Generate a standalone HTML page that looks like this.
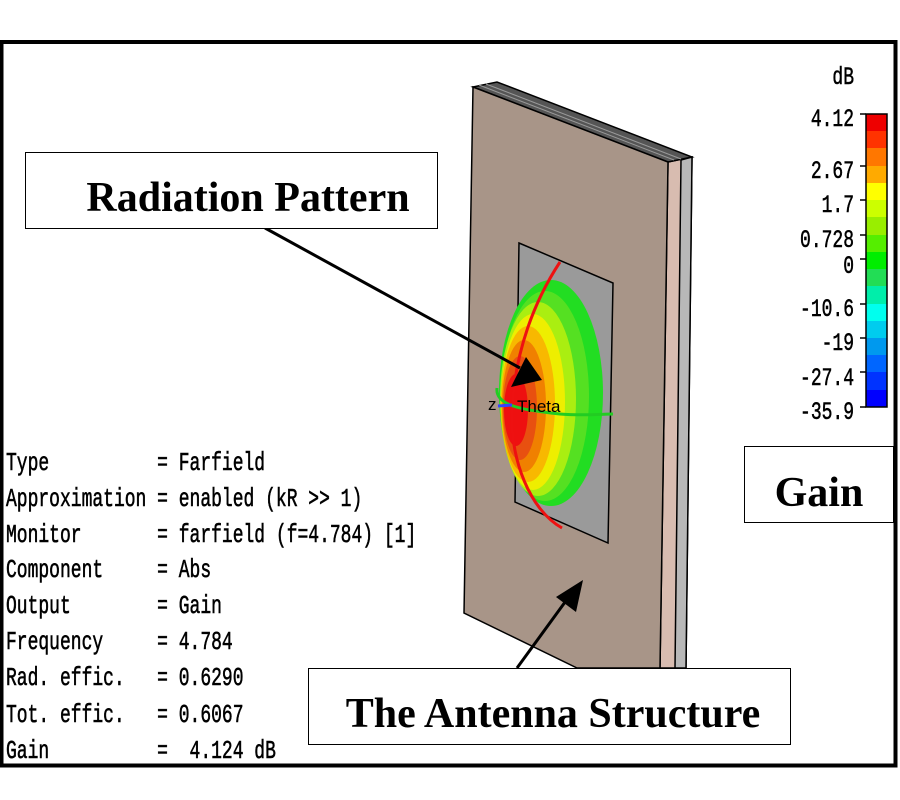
<!DOCTYPE html>
<html><head><meta charset="utf-8"><style>
html,body{margin:0;padding:0;background:#fff}
svg{display:block}
.m{font-family:"Liberation Mono","DejaVu Sans Mono",monospace;font-size:18px;fill:#000;stroke:#000;stroke-width:0.4}
.b{font-family:"Liberation Serif",serif;font-weight:bold;fill:#000}
</style></head><body>
<svg width="900" height="800" viewBox="0 0 900 800" xmlns="http://www.w3.org/2000/svg">
<rect x="0" y="0" width="900" height="800" fill="#fff"/>
<rect x="1.5" y="42" width="894" height="723.5" fill="#fff" stroke="#000" stroke-width="4"/>
<!-- board -->
<polygon points="668,162 692,157 686,668 660,668" fill="#d8bcb0" stroke="#000" stroke-width="1.5"/>
<polygon points="681,160 692,157 686,668 675,668" fill="#b8b8b8" stroke="#000" stroke-width="1.5"/>
<polygon points="473,87 497,82 692,157 668,162" fill="#555" stroke="#000" stroke-width="1.5"/>
<line x1="479" y1="85" x2="674" y2="160" stroke="#999" stroke-width="1"/>
<line x1="486" y1="84" x2="681" y2="159" stroke="#999" stroke-width="1"/>
<polygon points="473,87 668,162 660,668 577,668 464,613" fill="#a89588" stroke="#000" stroke-width="1.5"/>
<polygon points="519,243 613,283 608,543 515,502" fill="#9a9a9a" stroke="#000" stroke-width="1.5"/>
<!-- pattern -->
<ellipse cx="551" cy="393" rx="52" ry="113" fill="#22dd22"/>
<ellipse cx="545" cy="396" rx="44" ry="105" fill="#55e022"/>
<ellipse cx="538" cy="399" rx="38" ry="97" fill="#aaee11"/>
<ellipse cx="533" cy="402" rx="32" ry="88" fill="#eeee00"/>
<ellipse cx="528" cy="404" rx="27" ry="78" fill="#f8b800"/>
<ellipse cx="524" cy="406" rx="22" ry="66" fill="#f08000"/>
<ellipse cx="520" cy="408" rx="17" ry="52" fill="#e85010"/>
<ellipse cx="516" cy="410" rx="12" ry="36" fill="#ee1010"/>
<path d="M560,262 C535,300 515,350 512,410 C510,460 530,510 562,528" fill="none" stroke="#ee1111" stroke-width="3"/>
<path d="M497,388 C495,405 520,410 560,414 C585,416 600,414 613,414" fill="none" stroke="#22cc22" stroke-width="3"/>
<line x1="498" y1="406" x2="512" y2="405" stroke="#3344ff" stroke-width="3"/>
<text x="488" y="410" font-family="Liberation Sans,sans-serif" font-size="17" fill="#000">z</text>
<text x="517" y="412" font-family="Liberation Sans,sans-serif" font-size="17" fill="#000">Theta</text>
<!-- arrows -->
<line x1="265" y1="228" x2="520" y2="368" stroke="#000" stroke-width="3"/>
<polygon points="542,380 511,387 526,357" fill="#000"/>
<line x1="517" y1="668" x2="568" y2="598" stroke="#000" stroke-width="3"/>
<polygon points="583,580 576,612 556,597" fill="#000"/>
<!-- color bar -->
<g stroke="none">
<rect x="866" y="114" width="21" height="17" fill="#ee0000"/>
<rect x="866" y="131" width="21" height="17" fill="#ff3300"/>
<rect x="866" y="148" width="21" height="18" fill="#ff7700"/>
<rect x="866" y="166" width="21" height="17" fill="#ffaa00"/>
<rect x="866" y="183" width="21" height="17" fill="#ffff00"/>
<rect x="866" y="200" width="21" height="17" fill="#ccff00"/>
<rect x="866" y="217" width="21" height="18" fill="#99ee00"/>
<rect x="866" y="235" width="21" height="17" fill="#55ee00"/>
<rect x="866" y="252" width="21" height="17" fill="#00ee00"/>
<rect x="866" y="269" width="21" height="17" fill="#22dd55"/>
<rect x="866" y="286" width="21" height="18" fill="#00eeaa"/>
<rect x="866" y="304" width="21" height="17" fill="#00ffee"/>
<rect x="866" y="321" width="21" height="17" fill="#00ccee"/>
<rect x="866" y="338" width="21" height="17" fill="#0099ee"/>
<rect x="866" y="355" width="21" height="17" fill="#0066ff"/>
<rect x="866" y="372" width="21" height="18" fill="#0033ff"/>
<rect x="866" y="390" width="21" height="17" fill="#0000ff"/>
</g>
<rect x="866" y="114" width="21" height="293" fill="none" stroke="#000" stroke-width="1.5"/>
<g stroke="#000" stroke-width="1.5">
<line x1="860" y1="114" x2="866" y2="114"/><line x1="860" y1="166" x2="866" y2="166"/>
<line x1="860" y1="200" x2="866" y2="200"/><line x1="860" y1="235" x2="866" y2="235"/>
<line x1="860" y1="259" x2="866" y2="259"/><line x1="860" y1="304" x2="866" y2="304"/>
<line x1="860" y1="338" x2="866" y2="338"/><line x1="860" y1="372" x2="866" y2="372"/>
<line x1="860" y1="407" x2="866" y2="407"/>
</g>
<g class="m" text-anchor="end" font-size="19">
<text transform="translate(854,84) scale(1,1.4)">dB</text>
<text transform="translate(854,126) scale(1,1.4)">4.12</text>
<text transform="translate(854,178) scale(1,1.4)">2.67</text>
<text transform="translate(854,212) scale(1,1.4)">1.7</text>
<text transform="translate(854,247) scale(1,1.4)">0.728</text>
<text transform="translate(854,273) scale(1,1.4)">0</text>
<text transform="translate(854,316) scale(1,1.4)">-10.6</text>
<text transform="translate(854,350) scale(1,1.4)">-19</text>
<text transform="translate(854,385) scale(1,1.4)">-27.4</text>
<text transform="translate(854,419) scale(1,1.4)">-35.9</text>
</g>
<!-- parameters -->
<g class="m" font-size="18">
<text transform="translate(6,470) scale(1,1.45)" xml:space="preserve">Type          = Farfield</text>
<text transform="translate(6,506) scale(1,1.45)" xml:space="preserve">Approximation = enabled (kR &gt;&gt; 1)</text>
<text transform="translate(6,542) scale(1,1.45)" xml:space="preserve">Monitor       = farfield (f=4.784) [1]</text>
<text transform="translate(6,577) scale(1,1.45)" xml:space="preserve">Component     = Abs</text>
<text transform="translate(6,613) scale(1,1.45)" xml:space="preserve">Output        = Gain</text>
<text transform="translate(6,649) scale(1,1.45)" xml:space="preserve">Frequency     = 4.784</text>
<text transform="translate(6,685) scale(1,1.45)" xml:space="preserve">Rad. effic.   = 0.6290</text>
<text transform="translate(6,722) scale(1,1.45)" xml:space="preserve">Tot. effic.   = 0.6067</text>
<text transform="translate(6,758) scale(1,1.45)" xml:space="preserve">Gain          =  4.124 dB</text>
</g>
<!-- label boxes -->
<rect x="25.5" y="152.5" width="412" height="76" fill="#fff" stroke="#000" stroke-width="1"/>
<text class="b" x="248" y="211" font-size="42" text-anchor="middle">Radiation Pattern</text>
<rect x="744.5" y="446.5" width="149" height="76" fill="#fff" stroke="#000" stroke-width="1"/>
<text class="b" x="819" y="506" font-size="42" text-anchor="middle">Gain</text>
<rect x="308.5" y="668.5" width="482" height="76" fill="#fff" stroke="#000" stroke-width="1"/>
<text class="b" x="553" y="727" font-size="42" text-anchor="middle">The Antenna Structure</text>
</svg>
</body></html>
